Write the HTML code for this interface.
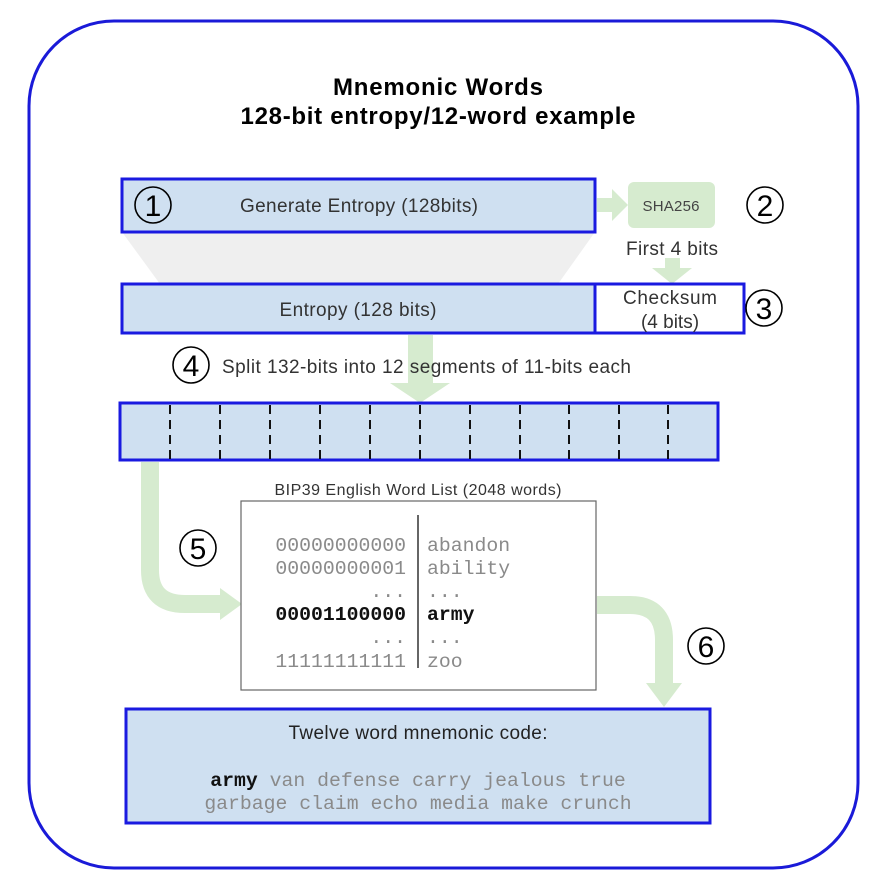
<!DOCTYPE html>
<html><head><meta charset="utf-8"><style>
body{margin:0;background:#fff;}
svg{display:block;font-family:"Liberation Sans",sans-serif;}
.m{font-family:"Liberation Mono",monospace;font-size:19.8px;fill:#8a8a8a;}
</style></head><body>
<svg width="888" height="893" viewBox="0 0 888 893">
<rect x="29" y="21" width="829" height="847" rx="85" fill="#fff" stroke="#1a1ad8" stroke-width="3"/>
<text x="438" y="95" text-anchor="middle" font-size="24" font-weight="bold" textLength="210">Mnemonic Words</text>
<text x="438" y="124" text-anchor="middle" font-size="24" font-weight="bold" textLength="395">128-bit entropy/12-word example</text>

<polygon points="122,232 595,232 558,284 160,284" fill="#efefef"/>
<rect x="122" y="179" width="473" height="53" fill="#cfe0f1" stroke="#1a1ae0" stroke-width="3"/>
<circle cx="153" cy="205" r="18" fill="none" stroke="#000" stroke-width="1.6"/>
<text x="153" y="216" text-anchor="middle" font-size="30">1</text>
<text x="359" y="212" text-anchor="middle" font-size="19" fill="#333" textLength="238">Generate Entropy (128bits)</text>

<polygon points="597,198 612,198 612,189 628,205 612,221 612,212 597,212" fill="#d6ebcf"/>
<rect x="628" y="182" width="87" height="46" rx="6" fill="#d6ebcf"/>
<text x="671" y="211" text-anchor="middle" font-size="15" fill="#444" textLength="57">SHA256</text>
<circle cx="765" cy="205" r="18" fill="none" stroke="#000" stroke-width="1.6"/>
<text x="765" y="216" text-anchor="middle" font-size="30">2</text>
<text x="672" y="255" text-anchor="middle" font-size="19" fill="#333" textLength="92">First 4 bits</text>
<polygon points="665,258 680,258 680,268 692,268 672,284 652,268 665,268" fill="#d6ebcf"/>

<rect x="122" y="284" width="473" height="49" fill="#cfe0f1" stroke="#1a1ae0" stroke-width="3"/>
<rect x="595" y="284" width="149" height="49" fill="#fff" stroke="#1a1ae0" stroke-width="3"/>
<text x="358" y="316" text-anchor="middle" font-size="19" fill="#333" textLength="157">Entropy (128 bits)</text>
<text x="670" y="304" text-anchor="middle" font-size="19" fill="#333" textLength="94">Checksum</text>
<text x="670" y="328" text-anchor="middle" font-size="19" fill="#333">(4 bits)</text>
<circle cx="764" cy="308" r="18" fill="none" stroke="#000" stroke-width="1.6"/>
<text x="764" y="319" text-anchor="middle" font-size="30">3</text>

<polygon points="408,335 433,335 433,383 450,383 420,403 390,383 408,383" fill="#d6ebcf"/>
<circle cx="191" cy="365" r="18" fill="none" stroke="#000" stroke-width="1.6"/>
<text x="191" y="376" text-anchor="middle" font-size="30">4</text>
<text x="222" y="373" font-size="19" fill="#333" textLength="409">Split 132-bits into 12 segments of 11-bits each</text>

<path d="M150,462 L150,570 Q150,604 185,604 L222,604" fill="none" stroke="#d6ebcf" stroke-width="18"/>
<polygon points="220,588 242,604 220,620" fill="#d6ebcf"/>
<path d="M597,605 L630,605 Q664,605 664,640 L664,685" fill="none" stroke="#d6ebcf" stroke-width="18"/>
<polygon points="646,683 682,683 664,707" fill="#d6ebcf"/>

<rect x="120" y="403" width="598" height="57" fill="#cfe0f1" stroke="#1a1ae0" stroke-width="3"/>
<g stroke="#111" stroke-width="2" stroke-dasharray="9,6">
<line x1="170" y1="405" x2="170" y2="460"/><line x1="220" y1="405" x2="220" y2="460"/><line x1="270" y1="405" x2="270" y2="460"/><line x1="320" y1="405" x2="320" y2="460"/><line x1="370" y1="405" x2="370" y2="460"/><line x1="420" y1="405" x2="420" y2="460"/><line x1="470" y1="405" x2="470" y2="460"/><line x1="520" y1="405" x2="520" y2="460"/><line x1="569" y1="405" x2="569" y2="460"/><line x1="619" y1="405" x2="619" y2="460"/><line x1="668" y1="405" x2="668" y2="460"/>
</g>

<text x="418" y="495" text-anchor="middle" font-size="16" fill="#333" textLength="287">BIP39 English Word List (2048 words)</text>
<rect x="241" y="501" width="355" height="189" fill="#fff" stroke="#666" stroke-width="1.2"/>
<line x1="418" y1="515" x2="418" y2="668" stroke="#333" stroke-width="1.5"/>
<g text-anchor="end">
<text x="406" y="551" class="m">00000000000</text><text x="406" y="574" class="m">00000000001</text><text x="406" y="597" class="m">...</text>
<text x="406" y="620" class="m" style="fill:#111;font-weight:bold">00001100000</text><text x="406" y="643" class="m">...</text><text x="406" y="667" class="m">11111111111</text>
</g>
<text x="427" y="551" class="m">abandon</text><text x="427" y="574" class="m">ability</text><text x="427" y="597" class="m">...</text>
<text x="427" y="620" class="m" style="fill:#111;font-weight:bold">army</text><text x="427" y="643" class="m">...</text><text x="427" y="667" class="m">zoo</text>
<circle cx="198" cy="548" r="18" fill="none" stroke="#000" stroke-width="1.6"/>
<text x="198" y="559" text-anchor="middle" font-size="30">5</text>
<circle cx="706" cy="646" r="18" fill="none" stroke="#000" stroke-width="1.6"/>
<text x="706" y="657" text-anchor="middle" font-size="30">6</text>

<rect x="126" y="709" width="584" height="114" fill="#cfe0f1" stroke="#1a1ae0" stroke-width="3"/>
<text x="418" y="739" text-anchor="middle" font-size="19" fill="#222" textLength="259">Twelve word mnemonic code:</text>
<text x="418" y="786" text-anchor="middle" class="m"><tspan style="fill:#111;font-weight:bold">army</tspan> van defense carry jealous true</text>
<text x="418" y="809" text-anchor="middle" class="m">garbage claim echo media make crunch</text>
</svg>
</body></html>
